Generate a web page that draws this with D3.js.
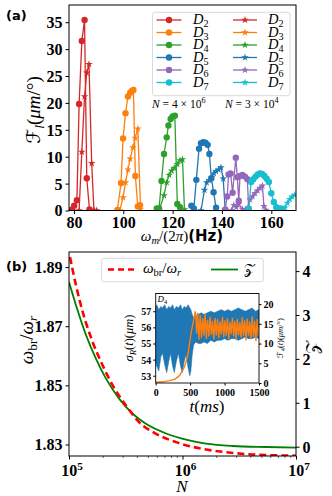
<!DOCTYPE html>
<html><head><meta charset="utf-8">
<script src="https://cdn.jsdelivr.net/npm/d3@7"></script>
<style>body{margin:0;background:#fff}svg{display:block}</style>
</head><body><svg id="c" width="332" height="496"></svg>
<script>
// ---------- Data: panel (a) ----------
const labels = ["2","3","4","5","6","7"];
const colors = ["#d62728","#ff7f0e","#2ca02c","#1f77b4","#9467bd","#17becf"];
// N = 4e6 (circles)
const hzC = [
  [79.2, 80.1, 81.2, 82.1, 83.2, 84.3, 85.2, 86.3],
  [97.6, 99.1, 99.9, 100.9, 101.9, 102.8, 103.5, 104.1, 104.9, 105.9, 106.8],
  [113.6, 114.5, 115.5, 116.5, 117.6, 118.3, 119.2, 120.0, 120.9, 121.9, 123.0],
  [127.6, 128.6, 129.6, 130.7, 131.5, 132.4, 133.3, 134.2, 134.9, 135.7, 136.6, 137.6],
  [141.3, 142.1, 142.7, 143.5, 144.3, 145.6, 146.2, 146.8, 147.3, 148.3, 149.3, 150.3, 150.8],
  [150.9, 151.8, 152.7, 153.6, 154.5, 155.4, 156.3, 157.2, 158.1, 159.0, 160.0, 161.0, 162.0, 163.0, 164.0]
];
const fC = [
  [0.2, 0.9, 1.9, 19.8, 31.5, 35.4, 6.0, 0.2],
  [0.1, 5.1, 13.4, 18.1, 21.2, 21.9, 22.2, 22.4, 6.4, 0.75, 1.0],
  [0.4, 0.4, 5.5, 10.5, 13.6, 15.8, 17.0, 17.5, 17.6, 1.2, 0.6],
  [0.9, 0.4, 5.7, 11.5, 12.5, 12.7, 12.6, 12.2, 10.5, 6.0, 3.4, 0.5],
  [0.2, 2.6, 6.7, 6.9, 3.3, 9.8, 6.2, 1.8, 6.4, 6.6, 6.3, 5.8, 0.3],
  [0.3, 5.3, 5.8, 6.3, 6.7, 6.9, 6.8, 6.4, 5.9, 5.3, 3.2, 1.6, 0.6, 0.4, 0.4]
];
// N = 3e4 (stars)
const hzS = [
  [82.1, 83.2, 84.3, 85.2, 86.1, 87.2, 88.1, 89.2],
  [98.6, 99.9, 100.9, 101.9, 102.8, 103.9, 104.8, 105.9, 107.0],
  [114.5, 116.5, 117.6, 118.6, 119.6, 120.6, 121.9, 123.0, 124.0, 124.8],
  [131.5, 132.9, 133.8, 134.8, 135.8, 136.7, 137.6, 138.6, 139.6, 140.5, 141.3],
  [143.8, 144.8, 145.8, 146.8, 148.2, 149.7, 150.5, 151.4, 152.4, 153.4, 154.4, 155.4, 156.4, 157.0, 157.8],
  [162.5, 164.5, 165.5, 166.5, 167.5, 168.5, 169.5]
];
const fS = [
  [0, 10.9, 21.2, 25.6, 27.2, 8.8, 0.1, 0],
  [0, 2.4, 5.2, 7.6, 9.6, 11.7, 13.5, 15.2, 0.3],
  [0, 2.8, 5.2, 6.6, 7.4, 7.9, 8.6, 9.3, 9.5, 0.2],
  [0, 3.8, 5.2, 5.6, 6.2, 6.9, 7.3, 7.6, 8.0, 5.9, 0.2],
  [0, 1.0, 0.6, 1.2, 0.3, 0.2, 0.5, 2.0, 2.6, 3.2, 3.7, 4.2, 4.6, 0.8, 0.1],
  [0, 0.1, 0.5, 1.4, 2.1, 2.6, 2.9]
];
const xTicksA = [80, 100, 120, 140, 160];
const yTicksA = [0, 5, 10, 15, 20, 25, 30, 35];

// ---------- Data: panel (b) ----------
const nRed = [1.02e5, 1.153e5, 1.321e5, 1.618e5, 1.982e5, 2.427e5, 3.177e5, 4.159e5, 5.848e5, 8.77e5, 1.406e6, 2.415e6, 4.159e6, 1e7];
const wRatio = [1.8934, 1.8838, 1.8748, 1.8646, 1.8567, 1.8500, 1.8432, 1.8375, 1.8336, 1.8308, 1.8287, 1.8274, 1.8266, 1.8262];
const nGreen = [1e5, 1.153e5, 1.413e5, 1.730e5, 2.118e5, 2.773e5, 3.639e5, 4.764e5, 7.161e5, 1.074e6, 1.611e6, 2.767e6, 5.445e6, 1e7];
const zVals = [3.75, 3.22, 2.54, 2.0, 1.55, 1.09, 0.75, 0.52, 0.30, 0.16, 0.07, 0.016, -0.007, -0.02];
const xTicksB = [1e5, 1e6, 1e7];
const yTicksBL = [1.83, 1.85, 1.87, 1.89];
const yTicksBR = [0, 1, 2, 3, 4];

// ---------- Data: inset ----------
const tBlue = [0, 15, 45, 75, 100, 130, 160, 190, 215, 245, 270, 300, 330, 360, 385, 415, 440, 470, 495, 510, 530, 550, 580, 620, 660, 700, 750, 800, 850, 900, 950, 1000, 1050, 1100, 1150, 1200, 1250, 1300, 1350, 1400, 1450, 1500];
const sigLow = [53.8, 53.6, 53.3, 54.2, 54.4, 53.7, 53.2, 53.9, 54.4, 53.6, 53.2, 53.9, 54.4, 53.6, 53.2, 53.9, 54.3, 53.5, 53.0, 53.3, 54.3, 54.9, 55.1, 55.0, 55.0, 55.1, 55.0, 55.2, 55.1, 55.2, 55.2, 55.3, 55.2, 55.3, 55.3, 55.2, 55.3, 55.4, 55.3, 55.3, 55.4, 55.3];
const sigHigh = [57.2, 57.4, 57.1, 57.3, 57.2, 57.4, 57.1, 57.3, 57.2, 57.4, 57.1, 57.3, 57.2, 57.4, 57.1, 57.3, 57.2, 57.4, 57.2, 57.1, 56.8, 56.6, 56.7, 56.8, 56.9, 56.8, 56.9, 57.0, 56.9, 57.0, 57.1, 57.0, 57.1, 57.0, 57.1, 57.2, 57.1, 57.0, 57.1, 57.2, 57.0, 57.1];
const tOr = [0, 100, 200, 280, 340, 380, 420, 450, 475, 500, 520, 540, 560, 575, 585, 595,
  610, 628, 646, 664, 682, 700, 718, 736, 754, 772, 790, 808, 826, 844, 862, 880, 898, 916, 934, 952, 970, 988,
  1006, 1024, 1042, 1060, 1078, 1096, 1114, 1132, 1150, 1168, 1186, 1204, 1222, 1240, 1258, 1276, 1294, 1312,
  1330, 1348, 1366, 1384, 1402, 1420, 1438, 1456, 1474, 1492, 1500];
const f4 = [0.2, 0.3, 0.6, 1.0, 1.8, 2.8, 4.2, 6.0, 8.0, 11.0, 13.2, 15.0, 16.8, 18.2, 17.0, 12.5,
  17.8, 11.0, 17.2, 11.5, 16.5, 12.0, 17.6, 11.2, 16.0, 11.8, 16.8, 12.2, 15.8, 11.0, 16.5, 12.0, 16.2, 11.4, 15.6, 12.3, 16.8, 11.6,
  15.9, 12.0, 16.4, 11.2, 15.5, 12.4, 16.6, 11.8, 15.8, 11.0, 16.2, 12.1, 15.4, 11.5, 16.7, 11.9, 15.9, 10.8,
  16.3, 12.0, 15.6, 11.3, 16.9, 11.7, 15.7, 10.6, 16.2, 12.0, 14.0];
const tTicks = [0, 500, 1000, 1500];
const sTicks = [53, 54, 55, 56, 57];
const fTicks = [0, 5, 10, 15, 20];

// ---------- Rendering ----------
const svg = d3.select("#c");
const SERIF = "'Liberation Serif','DejaVu Serif',serif";
const SANS = "'DejaVu Sans',sans-serif";
const SCRIPT = "'DejaVu Sans','DejaVu Serif',serif";

function mtext(g, parts, size) {
  const t = g.append("text").attr("font-family", SERIF).attr("font-size", size);
  let shift = 0;
  parts.forEach(p => {
    const o = p[1] || {};
    const ts = t.append("tspan").text(p[0]);
    const target = o.sub ? size * 0.22 : (o.sup ? -size * 0.4 : 0);
    const dy = target - shift;
    if (dy !== 0) ts.attr("dy", dy);
    shift = target;
    ts.attr("font-size", (o.sub || o.sup) ? size * 0.7 : size);
    if (o.it) ts.attr("font-style", "italic");
    if (o.bold) ts.attr("font-weight", "bold");
    if (o.fam) ts.attr("font-family", o.fam);
  });
  return t;
}
function styleTicks(a, size) {
  a.select(".domain").remove();
  a.selectAll("text").attr("font-family", SERIF).attr("font-weight", "bold").attr("font-size", size).attr("fill", "#000");
}

// ===== Panel (a) =====
const xa = d3.scaleLinear().domain([78, 170]).range([69, 296]);
const ya = d3.scaleLinear().domain([0, 38.2]).range([210.5, 5]);
const ga = svg.append("g");
ga.append("defs").append("clipPath").attr("id", "clipA").append("rect")
  .attr("x", 69).attr("y", 5).attr("width", 227).attr("height", 205.5);

const plotA = ga.append("g").attr("clip-path", "url(#clipA)");
const lineA = d3.line().x(d => xa(d[0])).y(d => ya(d[1]));
const star = d3.symbol().type(d3.symbolStar).size(18);
for (let i = 0; i < 6; i++) {
  const dc = hzC[i].map((h, j) => [h, fC[i][j]]);
  const ds = hzS[i].map((h, j) => [h, fS[i][j]]);
  plotA.append("path").attr("d", lineA(dc)).attr("fill", "none").attr("stroke", colors[i]).attr("stroke-width", 1.3);
  plotA.selectAll(null).data(dc).enter().append("circle")
    .attr("cx", d => xa(d[0])).attr("cy", d => ya(d[1])).attr("r", 3.2).attr("fill", colors[i]);
  plotA.append("path").attr("d", lineA(ds)).attr("fill", "none").attr("stroke", colors[i]).attr("stroke-width", 1.3);
  plotA.selectAll(null).data(ds).enter().append("path")
    .attr("transform", d => `translate(${xa(d[0])},${ya(d[1])})`).attr("d", star).attr("fill", colors[i]);
}
ga.append("rect").attr("x", 69).attr("y", 5).attr("width", 227).attr("height", 205.5)
  .attr("fill", "none").attr("stroke", "#000").attr("stroke-width", 1);
const axA = ga.append("g").attr("transform", "translate(0,210.5)")
  .call(d3.axisBottom(xa).tickValues(xTicksA).tickSize(3.5).tickPadding(2));
const ayA = ga.append("g").attr("transform", "translate(69,0)")
  .call(d3.axisLeft(ya).tickValues(yTicksA).tickSize(3.5).tickPadding(3));
styleTicks(axA, 16); styleTicks(ayA, 16);
axA.selectAll("text").attr("dy", "0.72em");
ayA.selectAll("text").attr("dy", "0.34em");

mtext(ga, [["ω", {it: true}], ["m", {it: true, sub: true}], ["/(2"], ["π", {it: true}], [")"], ["(Hz)", {bold: true, fam: SANS}]], 15)
  .attr("x", 182).attr("y", 241).attr("text-anchor", "middle");
mtext(ga.append("g").attr("transform", "translate(40,110) rotate(-90)"),
  [["ℱ", {fam: SCRIPT}], ["l", {it: true, sub: true}], ["("], ["μm", {it: true}], ["/°)"]], 19)
  .attr("text-anchor", "middle");
ga.append("text").attr("x", 6).attr("y", 20).attr("font-family", SANS).attr("font-weight", "bold")
  .attr("font-size", 13).text("(a)");

// legend (a)
const lg = ga.append("g");
lg.append("rect").attr("x", 152.5).attr("y", 12.3).attr("width", 137.5).attr("height", 83.4)
  .attr("rx", 2.5).attr("fill", "#fff").attr("fill-opacity", 0.85).attr("stroke", "#d0d0d0").attr("stroke-width", 0.8);
for (let i = 0; i < 6; i++) {
  const yy = 20 + i * 12.5;
  lg.append("line").attr("x1", 156.5).attr("x2", 181.5).attr("y1", yy).attr("y2", yy).attr("stroke", colors[i]).attr("stroke-width", 1.3);
  lg.append("circle").attr("cx", 169).attr("cy", yy).attr("r", 3.2).attr("fill", colors[i]);
  mtext(lg, [["D", {it: true}], [labels[i], {sub: true}]], 14.5).attr("x", 193).attr("y", yy + 4);
  lg.append("line").attr("x1", 233).attr("x2", 257).attr("y1", yy).attr("y2", yy).attr("stroke", colors[i]).attr("stroke-width", 1.3);
  lg.append("path").attr("transform", `translate(245,${yy})`).attr("d", star).attr("fill", colors[i]);
  mtext(lg, [["D", {it: true}], [labels[i], {sub: true}]], 14.5).attr("x", 268).attr("y", yy + 4);
}
mtext(ga, [["N", {it: true}], [" = 4 × 10"], ["6", {sup: true}]], 11.5).attr("x", 152).attr("y", 108);
mtext(ga, [["N", {it: true}], [" = 3 × 10"], ["4", {sup: true}]], 11.5).attr("x", 225).attr("y", 108);

// ===== Panel (b) =====
const xb = d3.scaleLog().domain([1e5, 1e7]).range([69, 296]);
const ybl = d3.scaleLinear().domain([1.8261, 1.8951]).range([456, 252]);
const ybr = d3.scaleLinear().domain([-0.212, 4.435]).range([456, 252]);
const gb = svg.append("g");
gb.append("defs").append("clipPath").attr("id", "clipB").append("rect")
  .attr("x", 69).attr("y", 252).attr("width", 227).attr("height", 204);
const plotB = gb.append("g").attr("clip-path", "url(#clipB)");
plotB.append("path").attr("d", d3.line().curve(d3.curveMonotoneX).x(d => xb(d[0])).y(d => ybr(d[1]))(nGreen.map((n, i) => [n, zVals[i]])))
  .attr("fill", "none").attr("stroke", "#008000").attr("stroke-width", 1.8);
plotB.append("path").attr("d", d3.line().curve(d3.curveMonotoneX).x(d => xb(d[0])).y(d => ybl(d[1]))(nRed.map((n, i) => [n, wRatio[i]])))
  .attr("fill", "none").attr("stroke", "#ff0000").attr("stroke-width", 2.6).attr("stroke-dasharray", "7,4");
gb.append("rect").attr("x", 69).attr("y", 252).attr("width", 227).attr("height", 204)
  .attr("fill", "none").attr("stroke", "#000").attr("stroke-width", 1);
const axB = gb.append("g").attr("transform", "translate(0,456)")
  .call(d3.axisBottom(xb).tickValues(xTicksB).tickFormat(() => "").tickSize(3.5));
axB.select(".domain").remove();
const minor = [];
[1e5, 1e6].forEach(d => { for (let k = 2; k <= 9; k++) minor.push(d * k); });
gb.append("g").selectAll("line").data(minor).enter().append("line")
  .attr("x1", d => xb(d)).attr("x2", d => xb(d)).attr("y1", 456).attr("y2", 458).attr("stroke", "#000").attr("stroke-width", 0.6);
xTicksB.forEach(v => {
  const e = Math.round(Math.log10(v));
  mtext(gb, [["10", {bold: true}], [String(e), {sup: true, bold: true}]], 16)
    .attr("x", xb(v) + 3).attr("y", 476).attr("text-anchor", "middle");
});
const aybl = gb.append("g").attr("transform", "translate(69,0)")
  .call(d3.axisLeft(ybl).tickValues(yTicksBL).tickFormat(d3.format(".2f")).tickSize(3.5).tickPadding(3));
const aybr = gb.append("g").attr("transform", "translate(296,0)")
  .call(d3.axisRight(ybr).tickValues(yTicksBR).tickFormat(d3.format("d")).tickSize(3.5).tickPadding(3));
styleTicks(aybl, 16); styleTicks(aybr, 16);
aybl.selectAll("text").attr("dy", "0.34em");
aybr.selectAll("text").attr("dy", "0.34em");
mtext(gb, [["N", {it: true}]], 17).attr("x", 182).attr("y", 492).attr("text-anchor", "middle");
mtext(gb.append("g").attr("transform", "translate(33,340) rotate(-90)"),
  [["ω", {it: true}], ["br", {sub: true}], ["/"], ["ω", {it: true}], ["r", {it: true, sub: true}]], 19)
  .attr("text-anchor", "middle");
mtext(gb.append("g").attr("transform", "translate(318,347) rotate(-90)"),
  [["𝒵", {fam: SCRIPT}]], 17).attr("text-anchor", "middle");
gb.append("text").attr("x", 6).attr("y", 271).attr("font-family", SANS).attr("font-weight", "bold")
  .attr("font-size", 13).text("(b)");

// legend (b)
const lb = gb.append("g");
lb.append("rect").attr("x", 101.7).attr("y", 258.3).attr("width", 161.6).attr("height", 23.4)
  .attr("rx", 2.5).attr("fill", "#fff").attr("fill-opacity", 0.85).attr("stroke", "#d0d0d0").attr("stroke-width", 0.8);
lb.append("line").attr("x1", 108).attr("x2", 134).attr("y1", 269.5).attr("y2", 269.5)
  .attr("stroke", "#ff0000").attr("stroke-width", 2.6).attr("stroke-dasharray", "6,4");
mtext(lb, [["ω", {it: true}], ["br", {sub: true}], ["/"], ["ω", {it: true}], ["r", {it: true, sub: true}]], 15)
  .attr("x", 143).attr("y", 273);
lb.append("line").attr("x1", 211).attr("x2", 238).attr("y1", 269.5).attr("y2", 269.5)
  .attr("stroke", "#008000").attr("stroke-width", 1.8);
mtext(lb, [["𝒵", {fam: SCRIPT}]], 14).attr("x", 244).attr("y", 274);

// ===== Inset =====
const xi = d3.scaleLinear().domain([0, 1500]).range([155.7, 259]);
const yil = d3.scaleLinear().domain([52.55, 58.1]).range([383, 293.5]);
const yir = d3.scaleLinear().domain([0, 22.7]).range([383, 293.5]);
const gi = svg.append("g");
gi.append("rect").attr("x", 155.7).attr("y", 293.5).attr("width", 103.3).attr("height", 89.5).attr("fill", "#fff");
gi.append("defs").append("clipPath").attr("id", "clipI").append("rect")
  .attr("x", 155.7).attr("y", 293.5).attr("width", 103.3).attr("height", 89.5);
const plotI = gi.append("g").attr("clip-path", "url(#clipI)");
plotI.append("path").attr("d", d3.area().x(d => xi(d[0])).y0(d => yil(d[1])).y1(d => yil(d[2]))(tBlue.map((t, i) => [t, sigLow[i], sigHigh[i]])))
  .attr("fill", "#1f77b4").attr("stroke", "#1f77b4").attr("stroke-width", 0.6);
plotI.append("path").attr("d", d3.line().x(d => xi(d[0])).y(d => yir(d[1]))(tOr.map((t, i) => [t, f4[i]])))
  .attr("fill", "none").attr("stroke", "#ff7f0e").attr("stroke-width", 1.4);
gi.append("rect").attr("x", 155.7).attr("y", 293.5).attr("width", 103.3).attr("height", 89.5)
  .attr("fill", "none").attr("stroke", "#000").attr("stroke-width", 0.9);
const axi = gi.append("g").attr("transform", "translate(0,383)")
  .call(d3.axisBottom(xi).tickValues(tTicks).tickFormat(d3.format("d")).tickSize(2.5).tickPadding(3.5));
const ayil = gi.append("g").attr("transform", "translate(155.7,0)")
  .call(d3.axisLeft(yil).tickValues(sTicks).tickFormat(d3.format("d")).tickSize(2.5).tickPadding(2));
const ayir = gi.append("g").attr("transform", "translate(259,0)")
  .call(d3.axisRight(yir).tickValues(fTicks).tickFormat(d3.format("d")).tickSize(2.5).tickPadding(2));
styleTicks(axi, 10); styleTicks(ayil, 10); styleTicks(ayir, 10);
axi.selectAll("text").attr("dy", "0.72em");
ayil.selectAll("text").attr("dy", "0.34em");
ayir.selectAll("text").attr("dy", "0.34em");
mtext(gi, [["t", {it: true}], ["("], ["ms", {it: true}], [")"]], 17).attr("x", 207).attr("y", 412).attr("text-anchor", "middle");
mtext(gi.append("g").attr("transform", "translate(133,338) rotate(-90)"),
  [["σ", {it: true}], ["R", {it: true, sub: true}], ["("], ["t", {it: true}], [")("], ["μm", {it: true}], [")"]], 12.5)
  .attr("text-anchor", "middle");
mtext(gi.append("g").attr("transform", "translate(283,338) rotate(-90)"),
  [["ℱ", {fam: SCRIPT}], ["4", {sub: true}], ["("], ["t", {it: true}], [")("], ["μm", {it: true}], ["/°)"]], 8.5)
  .attr("text-anchor", "middle");
mtext(gi, [["D", {it: true}], ["4", {sub: true}]], 9).attr("x", 157.5).attr("y", 302);
</script></body></html>
